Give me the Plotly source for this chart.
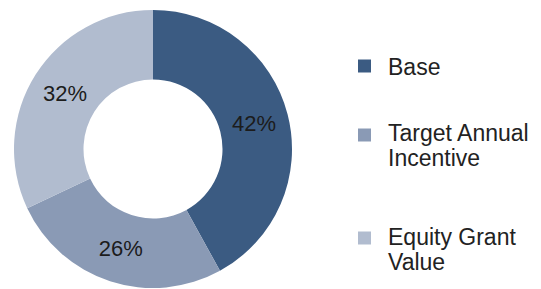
import plotly.graph_objects as go

categories = ["Base", "Target Annual<br>Incentive", "Equity Grant<br>Value"]
shares = [42, 26, 32]
colors = ["#3b5b82", "#8a9ab5", "#b1bccf"]

# The page body has an 8px default margin, so the figure is sized to fit the window.
W, H = 533, 281
OFF = 8  # page offset in px


def px_x(x):
    return (x - OFF) / W


def px_y(y):
    return 1 - (y - OFF) / H


cx, cy, r = 153, 149, 139  # donut centre and radius in window pixels

fig = go.Figure(go.Pie(
    labels=categories,
    values=shares,
    hole=0.5,
    sort=False,
    direction="clockwise",
    rotation=0,
    marker=dict(colors=colors, line=dict(width=0)),
    texttemplate="%{value}%",
    textposition="inside",
    insidetextorientation="horizontal",
    textfont=dict(family="Liberation Sans, Arial, sans-serif", size=22, color="#1c1c1c"),
    domain=dict(x=[px_x(cx - r), px_x(cx + r)], y=[px_y(cy + r), px_y(cy - r)]),
    hoverinfo="label+percent",
    showlegend=False,
))

# Legend drawn as swatches + text lines (window-pixel layout)
swatch_cy = [66, 135, 238]
first_line_y = [67, 133, 237]
line_pitch = 25
sw = 13
sw_x0 = 358
text_x = 386

shapes = []
annotations = []
for cat, col, scy, ty in zip(categories, colors, swatch_cy, first_line_y):
    shapes.append(dict(
        type="rect", xref="paper", yref="paper",
        x0=px_x(sw_x0), x1=px_x(sw_x0 + sw),
        y0=px_y(scy + sw / 2), y1=px_y(scy - sw / 2),
        fillcolor=col, line=dict(width=0),
    ))
    for i, line in enumerate(cat.split("<br>")):
        annotations.append(dict(
            text=line, xref="paper", yref="paper",
            x=px_x(text_x), y=px_y(ty + i * line_pitch),
            xanchor="left", yanchor="middle", showarrow=False,
            font=dict(family="Liberation Sans, Arial, sans-serif", size=23, color="#222222"),
        ))

fig.update_layout(
    width=W, height=H,
    margin=dict(l=0, r=0, t=0, b=0),
    paper_bgcolor="white",
    plot_bgcolor="white",
    shapes=shapes,
    annotations=annotations,
)

fig.write_html("out.html")
